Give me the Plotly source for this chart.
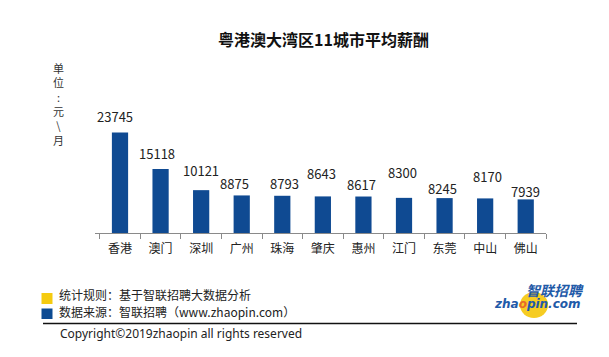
import plotly.graph_objects as go

cities = ["香港", "澳门", "深圳", "广州", "珠海", "肇庆", "惠州", "江门", "东莞", "中山", "佛山"]
salary = [23745, 15118, 10121, 8875, 8793, 8643, 8617, 8300, 8245, 8170, 7939]

title_text = "粤港澳大湾区11城市平均薪酬"
unit_chars = ["单", "位", ":", "元", "\\", "月"]
note_rule = "统计规则：基于智联招聘大数据分析"
note_source = "数据来源：智联招聘（www.zhaopin.com）"
copyright_text = "Copyright©2019zhaopin all rights reserved"

# label placement (pixel offsets, style only)
label_yshift = [16, 16, 20, 12, 12, 23, 12, 25, 10, 22, 8]
label_xshift = [-5, -4, 0, -7, 2, -1, -2, -2, -2, 2, 0]

OFF = 8  # page body margin of the browser
W_FIG, H_FIG = 609 - OFF, 357 - OFF
L, T = 95 - OFF, 106 - OFF
PW, PH = 451, 127
R = W_FIG - L - PW
B = H_FIG - T - PH
FONT = "Noto Sans CJK SC"
BAR = "#0f4a92"


def px(x):
    return (x - OFF - L) / PW


def py(y):
    return (H_FIG - B - (y - OFF)) / PH


fig = go.Figure()
fig.add_trace(go.Bar(x=cities, y=salary, marker=dict(color=BAR, line=dict(width=0)),
                     hoverinfo="x+y"))

ann = []
for c, v, ys, xs in zip(cities, salary, label_yshift, label_xshift):
    ann.append(dict(x=c, y=v, xref="x", yref="y", text=str(v), showarrow=False,
                    yanchor="middle", xanchor="center", yshift=ys, xshift=xs,
                    font=dict(family=FONT, size=13, color="#222222")))

ann.append(dict(x=px(323), y=py(39), xref="paper", yref="paper", text="<b>" + title_text + "</b>",
                showarrow=False, xanchor="center", yanchor="middle",
                font=dict(family=FONT, size=16, color="#111111")))

# vertical unit label, one upright character per line
ann.append(dict(x=px(58), y=py(104), xref="paper", yref="paper", text="<br>".join(unit_chars),
                showarrow=False, xanchor="center", yanchor="middle", align="center",
                font=dict(family=FONT, size=11, color="#333333")))

ann.append(dict(x=px(57), y=py(294), xref="paper", yref="paper", text=note_rule, showarrow=False,
                xanchor="left", yanchor="middle", font=dict(family=FONT, size=12, color="#222222")))
ann.append(dict(x=px(57), y=py(311.5), xref="paper", yref="paper", text=note_source, showarrow=False,
                xanchor="left", yanchor="middle", font=dict(family=FONT, size=12, color="#222222")))
ann.append(dict(x=px(58), y=py(333), xref="paper", yref="paper", text=copyright_text, showarrow=False,
                xanchor="left", yanchor="middle", font=dict(family="Noto Sans", size=12, color="#222222")))

# logo text
ann.append(dict(x=px(555), y=py(290), xref="paper", yref="paper", text="<b><i>智联招聘</i></b>",
                showarrow=False, xanchor="center", yanchor="middle",
                font=dict(family=FONT, size=14, color="#1f5aa8")))
ann.append(dict(x=px(537), y=py(304), xref="paper", yref="paper",
                text="<b><i>zha<span style='color:#e8692a'>o</span>pin.com</i></b>",
                showarrow=False, xanchor="center", yanchor="middle",
                font=dict(family="DejaVu Sans", size=12, color="#1f5aa8")))

shapes = [
    dict(type="rect", xref="paper", yref="paper", x0=px(41.5), x1=px(52.5), y0=py(304), y1=py(293),
         fillcolor="#f5cb10", line=dict(width=0)),
    dict(type="rect", xref="paper", yref="paper", x0=px(41.5), x1=px(52.5), y0=py(319), y1=py(308.5),
         fillcolor="#0d4b93", line=dict(width=0)),
    dict(type="line", xref="paper", yref="paper", x0=px(43), x1=px(577), y0=py(323.5), y1=py(323.5),
         line=dict(color="#111111", width=1.5)),
    dict(type="circle", xref="paper", yref="paper", x0=px(520), x1=px(548), y0=py(318), y1=py(292),
         fillcolor="#f6cc22", line=dict(width=0), layer="below"),
]

fig.update_layout(
    width=W_FIG, height=H_FIG, autosize=False,
    margin=dict(l=L, r=R, t=T, b=B, pad=0),
    paper_bgcolor="white", plot_bgcolor="white",
    showlegend=False, bargap=0.6,
    font=dict(family=FONT, size=13, color="#222222"),
    xaxis=dict(type="category", showline=True, linecolor="#8a8a8a", linewidth=1,
               ticks="outside", tickson="boundaries", ticklen=5, tickcolor="#8a8a8a",
               ticklabelstandoff=5,
               tickfont=dict(family=FONT, size=12, color="#222222"), showgrid=False,
               fixedrange=True),
    yaxis=dict(range=[0, 30000], visible=False, showgrid=False, zeroline=False, fixedrange=True),
    annotations=ann, shapes=shapes,
)

fig.write_html("out.html")
